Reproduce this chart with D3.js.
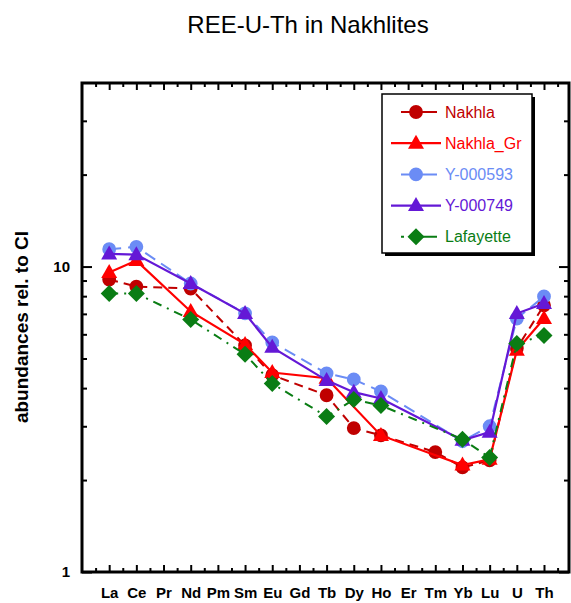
<!DOCTYPE html>
<html>
<head>
<meta charset="UTF-8">
<script src="https://d3js.org/d3.v7.min.js"></script>
<style>
  body { margin: 0; background: #fff; }
  text { font-family: "Liberation Sans", Arial, sans-serif; }
  .tick-lbl { font-size: 15px; font-weight: bold; fill: #000; }
</style>
</head>
<body>
<svg id="chart" width="571" height="603"></svg>
<script>
// element labels along the x axis
const elements = ["La","Ce","Pr","Nd","Pm","Sm","Eu","Gd","Tb","Dy","Ho","Er","Tm","Yb","Lu","U","Th"];

// CI-normalised abundances (null = not measured)
const nakhla    = [9.07, 8.6, null, 8.47, null, 5.52, 4.41, null, 3.79, 2.96, 2.80, null, 2.47, 2.20, 2.32, 5.40, 7.47];
const nakhlaGr  = [9.56, 10.46, null, 7.13, null, 5.56, 4.50, null, 4.31, null, 2.80, null, null, 2.24, 2.34, 5.32, 6.76];
const y000593   = [11.4, 11.6, null, 8.8, null, 7.03, 5.65, null, 4.47, 4.27, 3.90, null, null, 2.68, 3.00, 6.76, 7.98];
const y000749   = [11.0, 10.94, null, 8.8, null, 7.02, 5.44, null, 4.24, 3.88, 3.70, null, null, 2.70, 2.87, 7.02, 7.57];
const lafayette = [8.16, 8.16, null, 6.71, null, 5.16, 4.14, null, 3.23, 3.67, 3.51, null, null, 2.72, 2.37, 5.60, 5.95];

const seriesNames = ["Nakhla", "Nakhla_Gr", "Y-000593", "Y-000749", "Lafayette"];
const yMajor = [1, 10];
const yMinor = [2, 3, 4, 5, 6, 7, 8, 9, 20, 30];

const series = [
  { name: seriesNames[0], values: nakhla,    color: "#c00000", dash: "9,6",       marker: "circle",   width: 2 },
  { name: seriesNames[1], values: nakhlaGr,  color: "#ff0000", dash: null,        marker: "triangle", width: 2.2 },
  { name: seriesNames[2], values: y000593,   color: "#6b8cf5", dash: "12,7",      marker: "circle",   width: 2 },
  { name: seriesNames[3], values: y000749,   color: "#6418d6", dash: null,        marker: "triangle", width: 2.2 },
  { name: seriesNames[4], values: lafayette, color: "#0a7d14", dash: "9,6,2,6",   marker: "diamond",  width: 2 }
];

const svg = d3.select("#chart");
const L = 82, R = 569, T = 83, B = 572;

const x = d3.scaleLinear().domain([-1, 16.92]).range([L, R]);
const y = d3.scaleLog().domain([1, 39.9]).range([B, T]);

// title
svg.append("text")
  .attr("x", 308).attr("y", 33)
  .attr("text-anchor", "middle")
  .style("font-size", "24px")
  .text("REE-U-Th in Nakhlites");

// y label
svg.append("text")
  .attr("transform", "translate(28,327) rotate(-90)")
  .attr("text-anchor", "middle")
  .style("font-size", "19px").style("font-weight", "bold")
  .text("abundances rel. to CI");

const idx = d3.range(elements.length);
const halfIdx = d3.range(-0.5, 16.9, 1);

function styleAxis(g) {
  g.select(".domain").remove();
  g.selectAll("line").attr("stroke", "#000").attr("stroke-width", 2);
}

// bottom ticks + labels
svg.append("g").attr("transform", `translate(0,${B})`)
  .call(d3.axisBottom(x).tickValues(idx).tickSizeInner(-7).tickPadding(15)
        .tickFormat(i => elements[i]))
  .call(styleAxis)
  .call(g => g.selectAll("text").attr("class", "tick-lbl"));
svg.append("g").attr("transform", `translate(0,${B})`)
  .call(d3.axisBottom(x).tickValues(halfIdx).tickSizeInner(-4).tickFormat(""))
  .call(styleAxis);
// top ticks
svg.append("g").attr("transform", `translate(0,${T})`)
  .call(d3.axisTop(x).tickValues(idx).tickSizeInner(-7).tickFormat(""))
  .call(styleAxis);
svg.append("g").attr("transform", `translate(0,${T})`)
  .call(d3.axisTop(x).tickValues(halfIdx).tickSizeInner(-4).tickFormat(""))
  .call(styleAxis);

// left ticks + labels
svg.append("g").attr("transform", `translate(${L},0)`)
  .call(d3.axisLeft(y).tickValues(yMajor).tickSizeInner(-10).tickPadding(12)
        .tickFormat(d3.format("d")))
  .call(styleAxis)
  .call(g => g.selectAll("text").attr("class", "tick-lbl"));
svg.append("g").attr("transform", `translate(${L},0)`)
  .call(d3.axisLeft(y).tickValues(yMinor).tickSizeInner(-5).tickFormat(""))
  .call(styleAxis);
// right ticks
svg.append("g").attr("transform", `translate(${R},0)`)
  .call(d3.axisRight(y).tickValues(yMajor).tickSizeInner(-10).tickFormat(""))
  .call(styleAxis);
svg.append("g").attr("transform", `translate(${R},0)`)
  .call(d3.axisRight(y).tickValues(yMinor).tickSizeInner(-5).tickFormat(""))
  .call(styleAxis);

// frame
svg.append("rect")
  .attr("x", L).attr("y", T).attr("width", R - L).attr("height", B - T)
  .attr("fill", "none").attr("stroke", "#000").attr("stroke-width", 3);

function markerPath(type) {
  if (type === "circle") return d3.symbol(d3.symbolCircle, 150)();
  if (type === "triangle") return "M0,-8.5L8,5.5L-8,5.5Z";
  return "M0,-8.5L8.5,0L0,8.5L-8.5,0Z";
}

const line = d3.line()
  .defined(d => d.v != null)
  .x(d => x(d.i)).y(d => y(d.v));

series.forEach(s => {
  const pts = s.values.map((v, i) => ({ i, v })).filter(d => d.v != null);
  const g = svg.append("g");
  g.append("path")
    .datum(pts)
    .attr("d", line)
    .attr("fill", "none")
    .attr("stroke", s.color)
    .attr("stroke-width", s.width)
    .attr("stroke-dasharray", s.dash);
  g.selectAll("path.mk")
    .data(pts)
    .join("path")
    .attr("class", "mk")
    .attr("transform", d => `translate(${x(d.i)},${y(d.v)})`)
    .attr("d", markerPath(s.marker))
    .attr("fill", s.color);
});

// legend
const lg = svg.append("g");
lg.append("rect").attr("x", 385).attr("y", 97).attr("width", 150).attr("height", 159).attr("fill", "#000");
lg.append("rect").attr("x", 382).attr("y", 94).attr("width", 150).attr("height", 159)
  .attr("fill", "#fff").attr("stroke", "#000").attr("stroke-width", 1.5);

series.forEach((s, k) => {
  const cy = 112 + k * 31.2;
  const solid = s.dash == null;
  lg.append("line")
    .attr("x1", solid ? 391 : 401).attr("x2", solid ? 441 : 437)
    .attr("y1", cy).attr("y2", cy)
    .attr("stroke", s.color).attr("stroke-width", s.width)
    .attr("stroke-dasharray", s.dash ? (s.marker === "diamond" ? "3,6,40" : "12,4,40") : null);
  lg.append("path")
    .attr("transform", `translate(416,${cy})`)
    .attr("d", markerPath(s.marker))
    .attr("fill", s.color);
  lg.append("text")
    .attr("x", 445).attr("y", cy + 5.5)
    .style("font-size", "16px")
    .attr("fill", s.color)
    .text(s.name);
});
</script>
</body>
</html>
